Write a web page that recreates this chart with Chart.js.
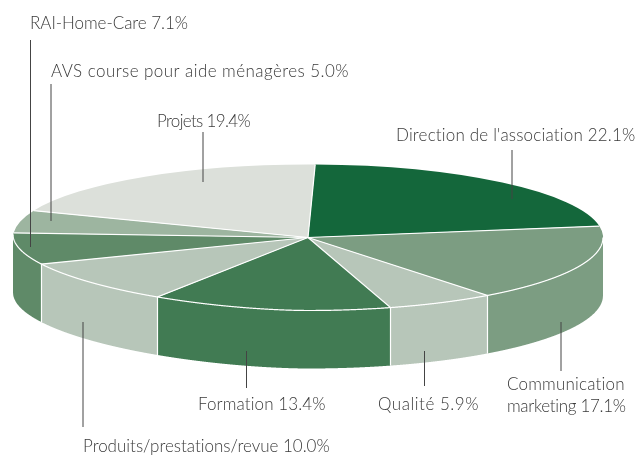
<!DOCTYPE html>
<html lang="fr">
<head>
<meta charset="utf-8">
<title>Répartition</title>
<style>
  html, body { margin: 0; background: #fff; }
  canvas { display: block; }
</style>
<script src="https://cdn.jsdelivr.net/npm/chart.js@4/dist/chart.umd.min.js"></script>
</head>
<body>
<canvas id="pie" width="643" height="455"></canvas>
<script>
// Slices, clockwise from the top
const categories = [
  "Direction de l'association",
  'Communication marketing',
  'Qualité',
  'Formation',
  'Produits/prestations/revue',
  'RAI-Home-Care',
  'AVS course pour aide ménagères',
  'Projets'
];
const shares = [22.1, 17.1, 5.9, 13.4, 10.0, 7.1, 5.0, 19.4];
const colors = ['#14673b', '#7c9d82', '#b7c6b9', '#417b53', '#b7c6b9', '#5f8a68', '#9db5a0', '#dce0da'];

// Flattened disc on the page
const disc = { x: 308, y: 237.5, rx: 295, ry: 73, depth: 58, rotation: 1.4 };

// Label placement, same order as categories
// x, base = text start and baseline, right = text end, line = leader x, from, to
const callouts = [
  { x: 396, base: 141, right: 636, line: 512, from: 150, to: 199 },
  { x: 507, base: 390, right: 625, right2: 626, line: 561, from: 322, to: 371 },
  { x: 378, base: 410, right: 479, line: 424.5, from: 351, to: 386 },
  { x: 198, base: 410, right: 326, line: 246.5, from: 351, to: 388 },
  { x: 83, base: 452, right: 330, line: 83, from: 322, to: 427 },
  { x: 30, base: 29, right: 188, line: 30.5, from: 40, to: 247 },
  { x: 51, base: 77, right: 349, line: 51, from: 84, to: 221 },
  { x: 157, base: 127, right: 250, line: 203, from: 132, to: 182 }
];

function arcs(chart) {
  return chart.getDatasetMeta(0).data.map(el =>
    el.getProps(['x', 'y', 'startAngle', 'endAngle', 'outerRadius'], true));
}

// Front rim of the disc. The original's left end is more pointed than an ellipse.
function rimPoints() {
  const pts = [];
  for (let x = disc.x + disc.rx; x >= disc.x - disc.rx; x -= 0.25) {
    const u = (x - disc.x) / disc.rx;
    const v = u >= 0 ? Math.sqrt(Math.max(0, 1 - u * u)) : Math.sqrt(Math.max(0, 1 - Math.pow(-u, 1.7)));
    const y = disc.y + disc.ry * v - (u < 0 ? 3 * u * u : 0);
    let angle = Math.atan2((y - disc.y) / disc.ry, u);
    if (angle < 0) angle += Math.PI * 2;
    pts.push({ x, y, angle });
  }
  return pts;
}

function fitText(ctx, text, x, base, right) {
  ctx.letterSpacing = '0px';
  const extra = (right - x - ctx.measureText(text).width) / text.length;
  ctx.letterSpacing = extra.toFixed(3) + 'px';
  ctx.fillText(text, x, base);
  ctx.letterSpacing = '0px';
}

const disc3d = {
  id: 'disc3d',
  beforeDatasetsDraw(chart) {
    // squash the library's round pie onto the top face
    const ctx = chart.ctx;
    const a = arcs(chart)[0];
    ctx.save();
    ctx.translate(disc.x, disc.y);
    ctx.scale(disc.rx / a.outerRadius, disc.ry / a.outerRadius);
    ctx.translate(-a.x, -a.y);
  },
  afterDatasetsDraw(chart) {
    const ctx = chart.ctx;
    ctx.restore();
    const list = arcs(chart);
    const rim = rimPoints();

    // side wall, one piece per slice
    list.forEach((a, i) => {
      const pts = rim.filter(p => p.angle >= a.startAngle && p.angle < a.endAngle);
      if (!pts.length) return;
      ctx.beginPath();
      pts.forEach((p, k) => k ? ctx.lineTo(p.x, p.y) : ctx.moveTo(p.x, p.y));
      pts.slice().reverse().forEach(p => ctx.lineTo(p.x, p.y + disc.depth));
      ctx.closePath();
      ctx.fillStyle = colors[i];
      ctx.fill();
    });

    // white slice edges, carried down the wall at the front
    ctx.strokeStyle = '#fff';
    ctx.lineWidth = 1.2;
    list.forEach(a => {
      const hit = a.startAngle > 0 ? rim.find(p => p.angle >= a.startAngle) : null;
      const ex = hit ? hit.x : disc.x + disc.rx * Math.cos(a.startAngle);
      const ey = hit ? hit.y : disc.y + disc.ry * Math.sin(a.startAngle);
      ctx.beginPath();
      ctx.moveTo(disc.x, disc.y);
      ctx.lineTo(ex, ey);
      if (hit) ctx.lineTo(ex, ey + disc.depth);
      ctx.stroke();
    });
    ctx.beginPath();
    rim.forEach((p, k) => k ? ctx.lineTo(p.x, p.y) : ctx.moveTo(p.x, p.y));
    ctx.stroke();

    // leaders and labels
    ctx.font = '300 17px Lato';
    ctx.textBaseline = 'alphabetic';
    callouts.forEach((c, i) => {
      ctx.strokeStyle = '#444';
      ctx.lineWidth = 1;
      ctx.beginPath();
      ctx.moveTo(c.line, c.from);
      ctx.lineTo(c.line, c.to);
      ctx.stroke();

      ctx.fillStyle = '#3a3a3a';
      const pct = shares[i].toFixed(1) + '%';
      if (c.right2) {
        const words = categories[i].split(' ');
        fitText(ctx, words[0], c.x, c.base, c.right);
        fitText(ctx, words[1] + ' ' + pct, c.x, c.base + 22, c.right2);
      } else {
        fitText(ctx, categories[i] + ' ' + pct, c.x, c.base, c.right);
      }
    });
  }
};

new Chart(document.getElementById('pie'), {
  type: 'pie',
  data: {
    labels: categories,
    datasets: [{ data: shares, backgroundColor: colors, borderWidth: 0 }]
  },
  options: {
    responsive: false,
    animation: false,
    events: [],
    rotation: disc.rotation,
    plugins: { legend: { display: false }, tooltip: { enabled: false } }
  },
  plugins: [disc3d]
});
</script>
</body>
</html>
